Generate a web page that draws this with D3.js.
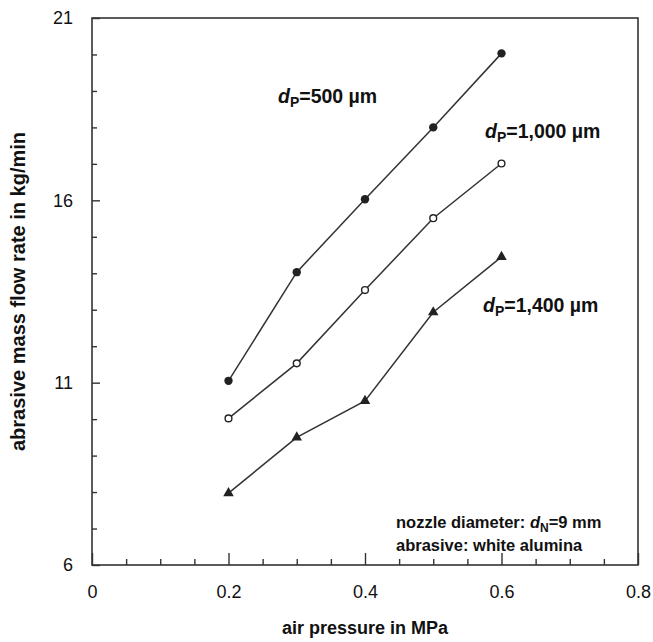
<!DOCTYPE html>
<html>
<head>
<meta charset="utf-8">
<script src="https://cdn.jsdelivr.net/npm/d3@7"></script>
<style>
  body { margin: 0; background: #fff; }
  svg { font-family: "Liberation Sans", Arial, Helvetica, sans-serif; }
</style>
</head>
<body>
<svg width="653" height="642"></svg>
<script>
// luchtdruk in MPa
const pressure = [0.2, 0.3, 0.4, 0.5, 0.6]
// massastroom in kg/min per korrelgrootte
const flow500 = [11.05, 14.03, 16.03, 18.0, 20.03]
const flow1000 = [10.02, 11.53, 13.54, 15.51, 17.01]
const flow1400 = [7.97, 9.5, 10.5, 12.93, 14.45]
const xTicks = [0, 0.2, 0.4, 0.6, 0.8]
const yTicks = [6, 11, 16, 21]

const svg = d3.select('svg')
const margin = {top: 18, right: 15, bottom: 77, left: 92}
const width = +svg.attr('width')
const height = +svg.attr('height')
const innerWidth = width - margin.left - margin.right
const innerHeight = height - margin.top - margin.bottom

const xscale = d3.scaleLinear().domain([0, 0.8]).range([0, innerWidth])
const yscale = d3.scaleLinear().domain([6, 21]).range([innerHeight, 0])

const g = svg.append('g')
    .attr('transform', `translate(${margin.left}, ${margin.top})`)

const axisColor = '#333'

// kader
g.append('rect')
    .attr('width', innerWidth)
    .attr('height', innerHeight)
    .attr('fill', 'none')
    .attr('stroke', axisColor)
    .attr('stroke-width', 1.6)

// kleine ticks x (zonder labels)
const xMinor = d3.range(0.05, 0.8, 0.05).filter(v => Math.abs(v / 0.2 - Math.round(v / 0.2)) > 0.01)
g.append('g').call(d3.axisBottom(xscale).tickValues(xMinor).tickSize(-6).tickFormat(''))
    .attr('transform', `translate(0, ${innerHeight})`)
    .call(a => a.select('.domain').remove())
    .call(a => a.selectAll('text').remove())
    .call(a => a.selectAll('line').attr('stroke', axisColor).attr('stroke-width', 1.4))

// grote ticks x met labels
g.append('g').call(d3.axisBottom(xscale).tickValues(xTicks).tickSize(-12).tickPadding(20).tickFormat(d => d === 0 ? '0' : d3.format('.1f')(d)))
    .attr('transform', `translate(0, ${innerHeight})`)
    .call(a => a.select('.domain').remove())
    .call(a => a.selectAll('line').attr('stroke', axisColor).attr('stroke-width', 1.4))
    .call(a => a.selectAll('text').attr('font-size', 18).attr('fill', '#111').attr('font-family', null))

// ticks y
const yMinor = d3.range(7, 21).filter(v => (v - 6) % 5 !== 0)
g.append('g').call(d3.axisLeft(yscale).tickValues(yMinor).tickSize(-5).tickFormat(''))
    .call(a => a.select('.domain').remove())
    .call(a => a.selectAll('text').remove())
    .call(a => a.selectAll('line').attr('stroke', axisColor).attr('stroke-width', 1.4))

g.append('g').call(d3.axisLeft(yscale).tickValues(yTicks).tickSize(-8).tickPadding(19))
    .call(a => a.select('.domain').remove())
    .call(a => a.selectAll('line').attr('stroke', axisColor).attr('stroke-width', 1.4))
    .call(a => a.selectAll('text').attr('font-size', 18).attr('fill', '#111').attr('font-family', null))

// lijnen
const line = d3.line()
    .x((d, i) => xscale(pressure[i]))
    .y(d => yscale(d))

const series = [flow500, flow1000, flow1400]
series.forEach(s => {
    g.append('path')
        .datum(s)
        .attr('d', line)
        .attr('fill', 'none')
        .attr('stroke', '#333')
        .attr('stroke-width', 1.5)
})

// markers
g.selectAll('.dot500').data(flow500).enter().append('circle')
    .attr('cx', (d, i) => xscale(pressure[i]))
    .attr('cy', d => yscale(d))
    .attr('r', 4.2)
    .attr('fill', '#222')

g.selectAll('.dot1000').data(flow1000).enter().append('circle')
    .attr('cx', (d, i) => xscale(pressure[i]))
    .attr('cy', d => yscale(d))
    .attr('r', 3.4)
    .attr('fill', '#fff')
    .attr('stroke', '#222')
    .attr('stroke-width', 1.4)

g.selectAll('.tri').data(flow1400).enter().append('path')
    .attr('d', d3.symbol().type(d3.symbolTriangle).size(48))
    .attr('transform', (d, i) => `translate(${xscale(pressure[i])}, ${yscale(d)})`)
    .attr('fill', '#222')

// annotaties
function dpLabel(x, y, sub, rest) {
    const t = svg.append('text')
        .attr('x', x).attr('y', y)
        .attr('font-size', 19.5)
        .attr('font-weight', 'bold')
        .attr('fill', '#111')
    t.append('tspan').attr('font-style', 'italic').text('d')
    t.append('tspan').attr('font-size', 14).attr('dy', 4).text(sub)
    t.append('tspan').attr('dy', -4).text(rest)
    return t
}
dpLabel(278, 103, 'P', '=500 µm')
dpLabel(485, 138, 'P', '=1,000 µm')
dpLabel(483, 312, 'P', '=1,400 µm')

const note = svg.append('text')
    .attr('x', 396).attr('y', 528)
    .attr('font-size', 16.5)
    .attr('font-weight', 'bold')
    .attr('fill', '#111')
note.append('tspan').text('nozzle diameter: ')
note.append('tspan').attr('font-style', 'italic').text('d')
note.append('tspan').attr('font-size', 12).attr('dy', 4).text('N')
note.append('tspan').attr('dy', -4).text('=9 mm')

svg.append('text')
    .attr('x', 396).attr('y', 551)
    .attr('font-size', 16.5)
    .attr('font-weight', 'bold')
    .attr('fill', '#111')
    .text('abrasive: white alumina')

// as titels
svg.append('text')
    .attr('x', margin.left + innerWidth / 2)
    .attr('y', 634)
    .attr('text-anchor', 'middle')
    .attr('font-size', 18)
    .attr('font-weight', 'bold')
    .attr('fill', '#111')
    .text('air pressure in MPa')

svg.append('text')
    .attr('transform', `translate(25, ${margin.top + innerHeight / 2}) rotate(-90)`)
    .attr('text-anchor', 'middle')
    .attr('font-size', 20)
    .attr('font-weight', 'bold')
    .attr('fill', '#111')
    .text('abrasive mass flow rate in kg/min')
</script>
</body>
</html>
